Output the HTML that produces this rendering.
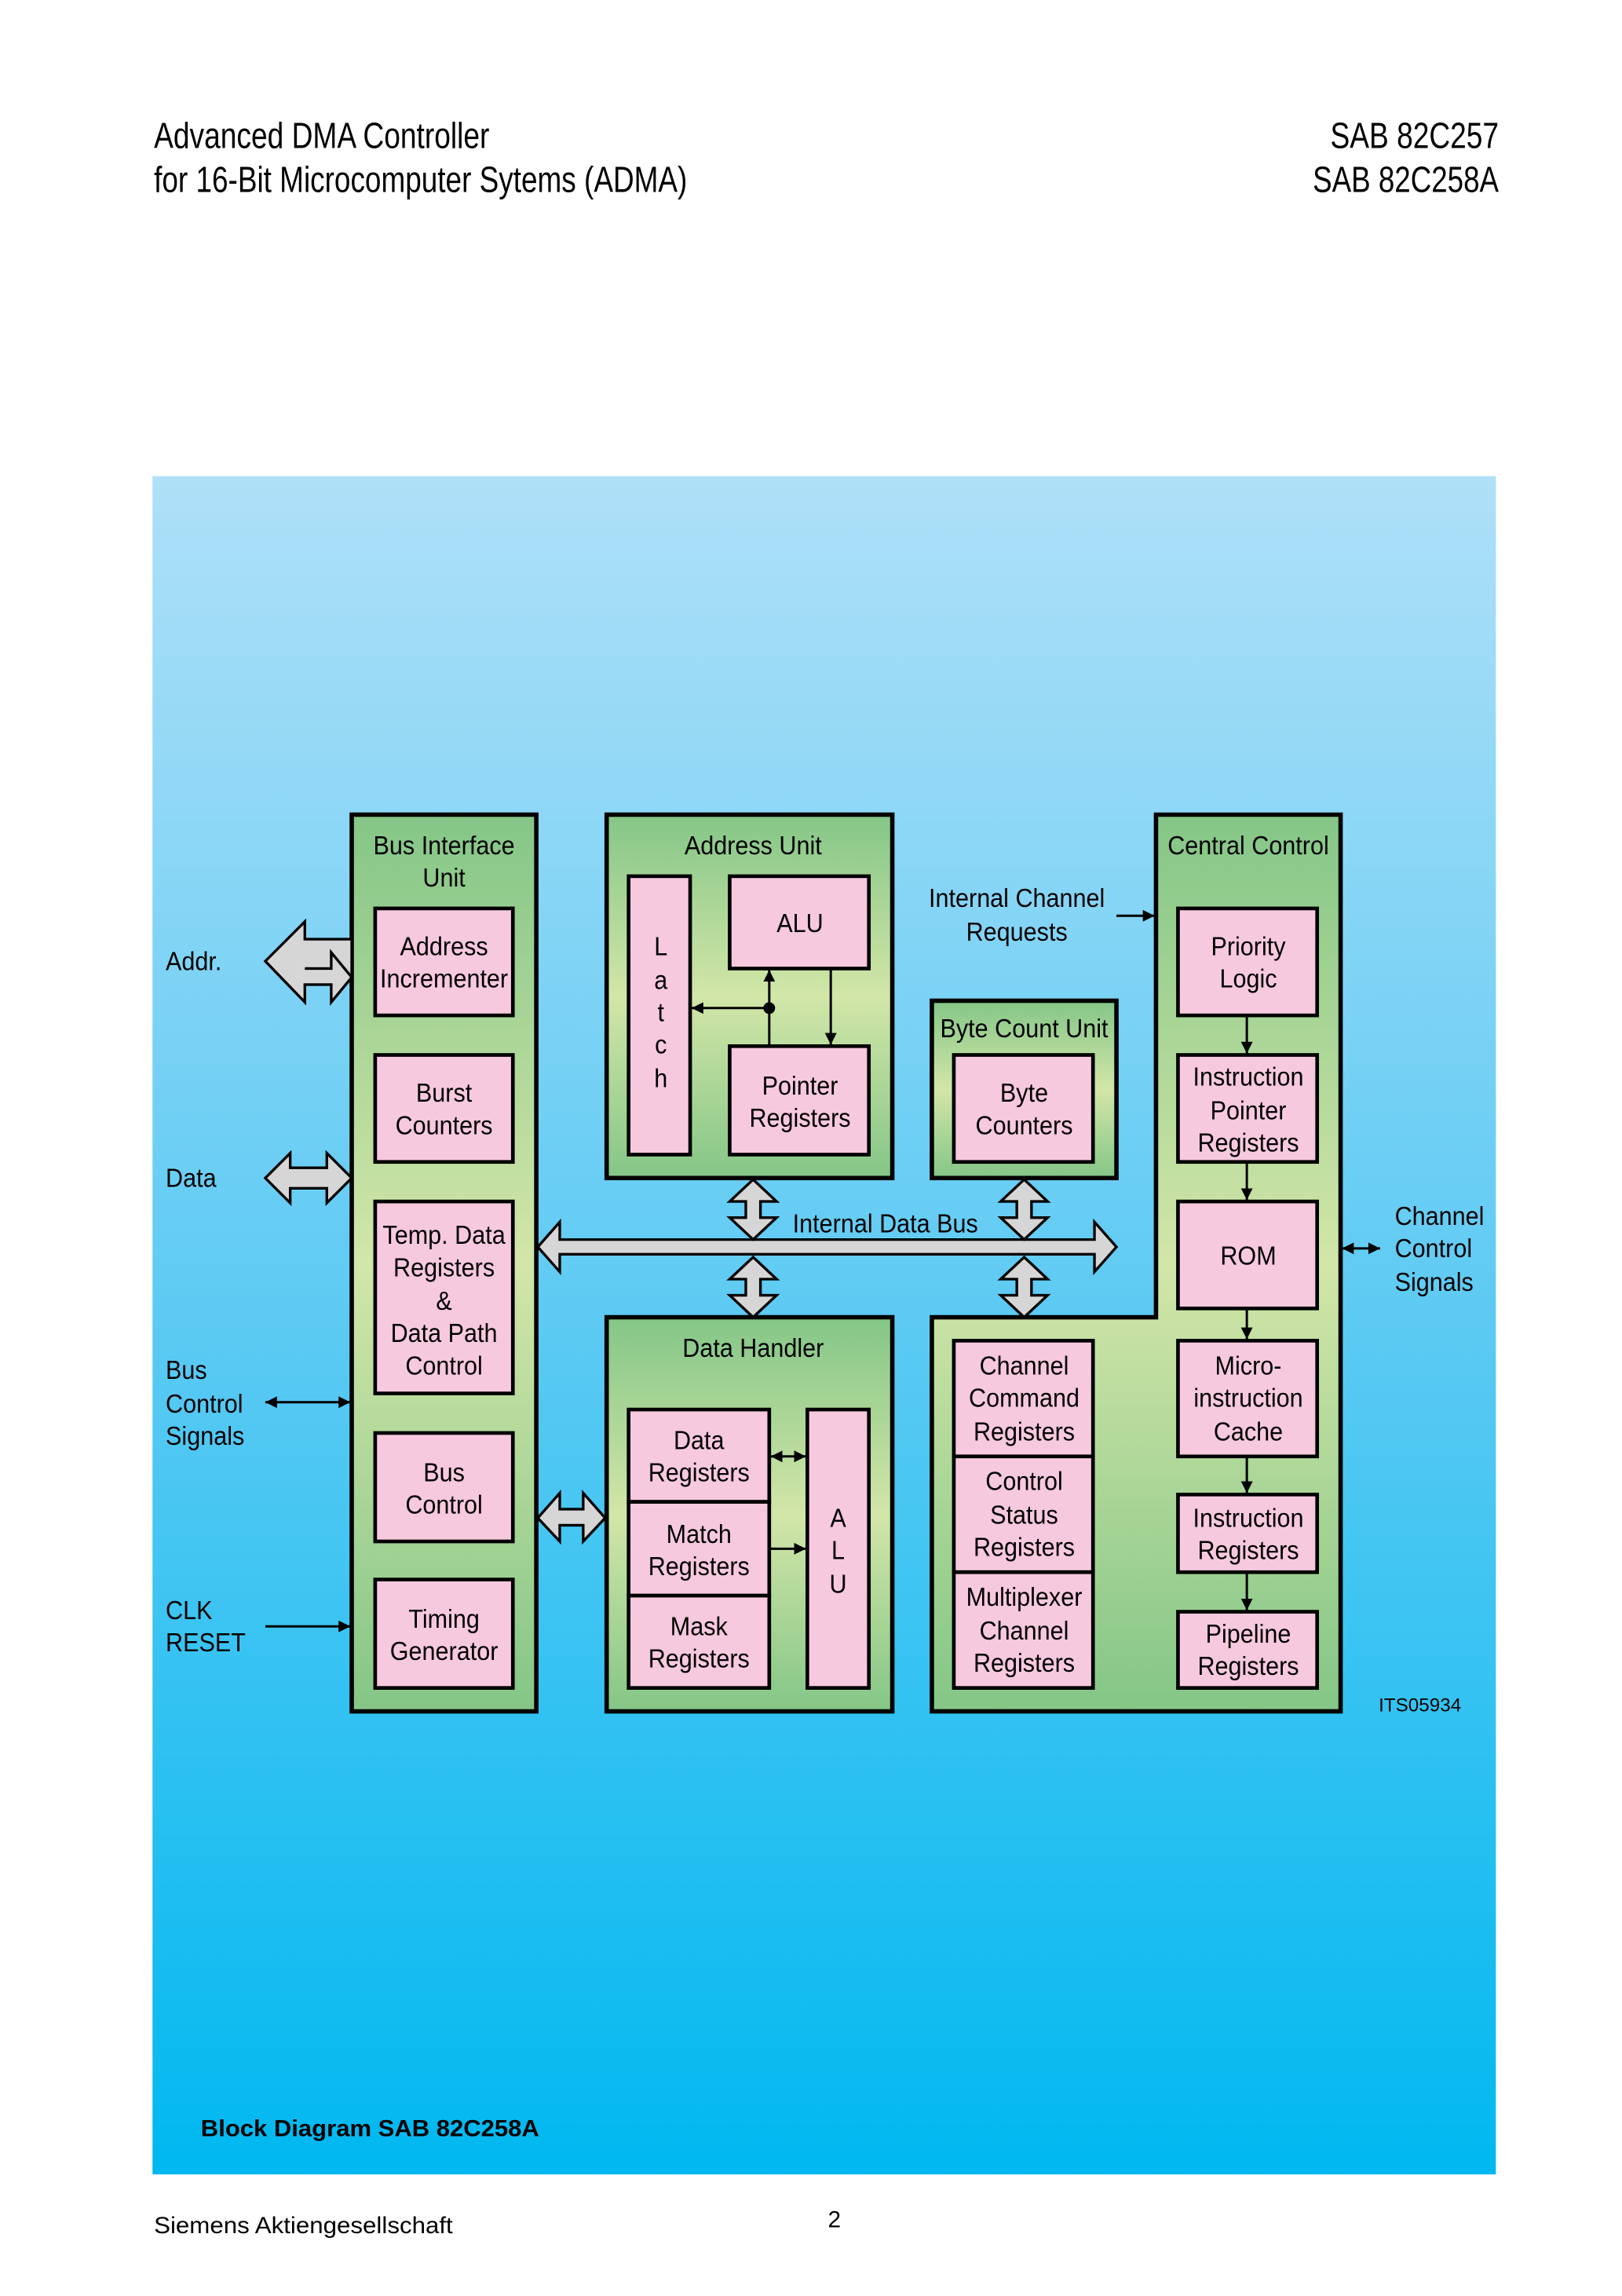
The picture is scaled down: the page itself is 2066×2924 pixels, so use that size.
<!DOCTYPE html>
<html><head><meta charset="utf-8"><style>
html,body{margin:0;padding:0;background:#fff;}
svg{display:block;}
text{font-family:"Liberation Sans",sans-serif;fill:#000;}
.t{font-size:18px;}
</style></head><body>
<svg width="2066" height="2924" viewBox="0 0 1107 1567" xmlns="http://www.w3.org/2000/svg">
<defs>
<linearGradient id="bg" x1="0" y1="0" x2="0" y2="1">
<stop offset="0" stop-color="#afe0f8"/><stop offset="0.5" stop-color="#5ccaf3"/><stop offset="1" stop-color="#00b8f0"/>
</linearGradient>
<linearGradient id="gr" x1="0" y1="0" x2="0" y2="1">
<stop offset="0" stop-color="#84c687"/><stop offset="0.5" stop-color="#d2e6a8"/><stop offset="1" stop-color="#84c687"/>
</linearGradient>
<marker id="ah" viewBox="0 0 10 10" refX="10" refY="5" markerWidth="8" markerHeight="8" markerUnits="userSpaceOnUse" orient="auto-start-reverse">
<path d="M0,0 L10,5 L0,10 z" fill="#000"/>
</marker>
</defs>

<text x="105" y="101" font-size="25" textLength="229" lengthAdjust="spacingAndGlyphs">Advanced DMA Controller</text>
<text x="105" y="131" font-size="25" textLength="364" lengthAdjust="spacingAndGlyphs">for 16-Bit Microcomputer Sytems (ADMA)</text>
<text x="908" y="101" font-size="25" textLength="115" lengthAdjust="spacingAndGlyphs">SAB 82C257</text>
<text x="896" y="131" font-size="25" textLength="127" lengthAdjust="spacingAndGlyphs">SAB 82C258A</text>

<rect x="104" y="325" width="917" height="1159" fill="url(#bg)"/>

<g stroke="#000" stroke-width="3">
<rect x="240" y="556" width="126" height="612" fill="url(#gr)"/>
<rect x="414" y="556" width="195" height="248" fill="url(#gr)"/>
<rect x="636" y="683" width="126" height="121" fill="url(#gr)"/>
<path d="M789,556 H915 V1168 H636 V899 H789 Z" fill="url(#gr)"/>
<rect x="414" y="899" width="195" height="269" fill="url(#gr)"/>
</g>

<g stroke="#000" stroke-width="2.5" fill="#f7c9de">
<rect x="256" y="620" width="94" height="73"/>
<rect x="256" y="720" width="94" height="73"/>
<rect x="256" y="820" width="94" height="131"/>
<rect x="256" y="978" width="94" height="74"/>
<rect x="256" y="1078" width="94" height="74"/>
<rect x="429" y="598" width="42" height="190"/>
<rect x="498" y="598" width="95" height="63"/>
<rect x="498" y="714" width="95" height="74"/>
<rect x="651" y="720" width="95" height="73"/>
<rect x="804" y="620" width="95" height="73"/>
<rect x="804" y="720" width="95" height="73"/>
<rect x="804" y="820" width="95" height="73"/>
<rect x="804" y="915" width="95" height="79"/>
<rect x="804" y="1020" width="95" height="53"/>
<rect x="804" y="1100" width="95" height="52"/>
<rect x="651" y="915" width="95" height="79"/>
<rect x="651" y="994" width="95" height="79"/>
<rect x="651" y="1073" width="95" height="79"/>
<rect x="429" y="962" width="96" height="63"/>
<rect x="429" y="1025" width="96" height="64"/>
<rect x="429" y="1089" width="96" height="63"/>
<rect x="551" y="962" width="42" height="190"/>
</g>

<g stroke="#000" stroke-width="1.6" fill="none">
<line x1="525" y1="714" x2="525" y2="662" marker-end="url(#ah)"/>
<line x1="525" y1="688" x2="472" y2="688" marker-end="url(#ah)"/>
<line x1="567" y1="661" x2="567" y2="713" marker-end="url(#ah)"/>
<line x1="851" y1="693" x2="851" y2="719" marker-end="url(#ah)"/>
<line x1="851" y1="793" x2="851" y2="819" marker-end="url(#ah)"/>
<line x1="851" y1="893" x2="851" y2="914" marker-end="url(#ah)"/>
<line x1="851" y1="994" x2="851" y2="1019" marker-end="url(#ah)"/>
<line x1="851" y1="1073" x2="851" y2="1099" marker-end="url(#ah)"/>
<line x1="526" y1="994" x2="550" y2="994" marker-start="url(#ah)" marker-end="url(#ah)"/>
<line x1="526" y1="1057" x2="550" y2="1057" marker-end="url(#ah)"/>
<line x1="762" y1="625" x2="788" y2="625" marker-end="url(#ah)"/>
<line x1="916" y1="852" x2="942" y2="852" marker-start="url(#ah)" marker-end="url(#ah)"/>
<line x1="181" y1="957" x2="239" y2="957" marker-start="url(#ah)" marker-end="url(#ah)"/>
<line x1="181" y1="1110" x2="239" y2="1110" marker-end="url(#ah)"/>
</g>
<circle cx="525" cy="688" r="4" fill="#000"/>

<g fill="#d6d6d6" stroke="#000" stroke-width="1.8" stroke-linejoin="miter">
<polygon points="367,851 382,834 382,846 747,846 747,834 762,851 747,868 747,856 382,856 382,868"/>
<polygon points="514,805 530,820 519,820 519,831 530,831 514,846 498,831 509,831 509,820 498,820"/>
<polygon points="514,858 530,873 519,873 519,884 530,884 514,899 498,884 509,884 509,873 498,873"/>
<polygon points="699,805 715,820 704,820 704,831 715,831 699,846 683,831 694,831 694,820 683,820"/>
<polygon points="699,858 715,873 704,873 704,884 715,884 699,899 683,884 694,884 694,873 683,873"/>
<polygon points="181,804 198,787 198,797 223,797 223,787 240,804 223,821 223,811 198,811 198,821"/>
<polygon points="367,1036 382,1019 382,1030 398,1030 398,1019 413,1036 398,1052 398,1041 382,1041 382,1052"/>
<polygon points="240,641 208,641 208,629 181,656 208,684 208,672 226,672 226,684 240,667"/>
</g>
<polyline points="208,661 226,661 226,650 240,667" fill="none" stroke="#000" stroke-width="1.8"/>

<g class="t" text-anchor="middle">
<text transform="translate(303,583) scale(.91,1)">Bus Interface</text>
<text transform="translate(303,605) scale(.91,1)">Unit</text>
<text transform="translate(303,652) scale(.91,1)">Address</text>
<text transform="translate(303,674) scale(.91,1)">Incrementer</text>
<text transform="translate(303,752) scale(.91,1)">Burst</text>
<text transform="translate(303,774) scale(.91,1)">Counters</text>
<text transform="translate(303,849) scale(.91,1)">Temp. Data</text>
<text transform="translate(303,871) scale(.91,1)">Registers</text>
<text transform="translate(303,894) scale(.91,1)">&amp;</text>
<text transform="translate(303,916) scale(.91,1)">Data Path</text>
<text transform="translate(303,938) scale(.91,1)">Control</text>
<text transform="translate(303,1011) scale(.91,1)">Bus</text>
<text transform="translate(303,1033) scale(.91,1)">Control</text>
<text transform="translate(303,1111) scale(.91,1)">Timing</text>
<text transform="translate(303,1133) scale(.91,1)">Generator</text>

<text transform="translate(514,583) scale(.91,1)">Address Unit</text>
<text transform="translate(546,636) scale(.91,1)">ALU</text>
<text transform="translate(546,747) scale(.91,1)">Pointer</text>
<text transform="translate(546,769) scale(.91,1)">Registers</text>
<text transform="translate(451,652) scale(.91,1)">L</text>
<text transform="translate(451,675) scale(.91,1)">a</text>
<text transform="translate(451,697) scale(.91,1)">t</text>
<text transform="translate(451,719) scale(.91,1)">c</text>
<text transform="translate(451,742) scale(.91,1)">h</text>

<text transform="translate(694,619) scale(.91,1)">Internal Channel</text>
<text transform="translate(694,642) scale(.91,1)">Requests</text>
<text transform="translate(699,708) scale(.91,1)">Byte Count Unit</text>
<text transform="translate(699,752) scale(.91,1)">Byte</text>
<text transform="translate(699,774) scale(.91,1)">Counters</text>

<text transform="translate(852,583) scale(.91,1)">Central Control</text>
<text transform="translate(852,652) scale(.91,1)">Priority</text>
<text transform="translate(852,674) scale(.91,1)">Logic</text>
<text transform="translate(852,741) scale(.91,1)">Instruction</text>
<text transform="translate(852,764) scale(.91,1)">Pointer</text>
<text transform="translate(852,786) scale(.91,1)">Registers</text>
<text transform="translate(852,863) scale(.91,1)">ROM</text>
<text transform="translate(852,938) scale(.91,1)">Micro-</text>
<text transform="translate(852,960) scale(.91,1)">instruction</text>
<text transform="translate(852,983) scale(.91,1)">Cache</text>
<text transform="translate(852,1042) scale(.91,1)">Instruction</text>
<text transform="translate(852,1064) scale(.91,1)">Registers</text>
<text transform="translate(852,1121) scale(.91,1)">Pipeline</text>
<text transform="translate(852,1143) scale(.91,1)">Registers</text>

<text transform="translate(699,938) scale(.91,1)">Channel</text>
<text transform="translate(699,960) scale(.91,1)">Command</text>
<text transform="translate(699,983) scale(.91,1)">Registers</text>
<text transform="translate(699,1017) scale(.91,1)">Control</text>
<text transform="translate(699,1040) scale(.91,1)">Status</text>
<text transform="translate(699,1062) scale(.91,1)">Registers</text>
<text transform="translate(699,1096) scale(.91,1)">Multiplexer</text>
<text transform="translate(699,1119) scale(.91,1)">Channel</text>
<text transform="translate(699,1141) scale(.91,1)">Registers</text>

<text transform="translate(514,926) scale(.91,1)">Data Handler</text>
<text transform="translate(477,989) scale(.91,1)">Data</text>
<text transform="translate(477,1011) scale(.91,1)">Registers</text>
<text transform="translate(477,1053) scale(.91,1)">Match</text>
<text transform="translate(477,1075) scale(.91,1)">Registers</text>
<text transform="translate(477,1116) scale(.91,1)">Mask</text>
<text transform="translate(477,1138) scale(.91,1)">Registers</text>
<text transform="translate(572,1042) scale(.91,1)">A</text>
<text transform="translate(572,1064) scale(.91,1)">L</text>
<text transform="translate(572,1087) scale(.91,1)">U</text>
</g>
<g class="t">
<text transform="translate(541,841) scale(.91,1)">Internal Data Bus</text>
<text transform="translate(113,662) scale(.91,1)">Addr.</text>
<text transform="translate(113,810) scale(.91,1)">Data</text>
<text transform="translate(113,941) scale(.91,1)">Bus</text>
<text transform="translate(113,964) scale(.91,1)">Control</text>
<text transform="translate(113,986) scale(.91,1)">Signals</text>
<text transform="translate(113,1105) scale(.91,1)">CLK</text>
<text transform="translate(113,1127) scale(.91,1)">RESET</text>
<text transform="translate(952,836) scale(.91,1)">Channel</text>
<text transform="translate(952,858) scale(.91,1)">Control</text>
<text transform="translate(952,881) scale(.91,1)">Signals</text>
<text transform="translate(941,1168) scale(1,1)" font-size="13">ITS05934</text>
</g>

<text x="137" y="1458" font-size="16" font-weight="bold" textLength="231" lengthAdjust="spacingAndGlyphs">Block Diagram SAB 82C258A</text>
<text x="105" y="1524" font-size="16" textLength="204" lengthAdjust="spacingAndGlyphs">Siemens Aktiengesellschaft</text>
<text x="565" y="1520" font-size="16">2</text>
</svg>
</body></html>
